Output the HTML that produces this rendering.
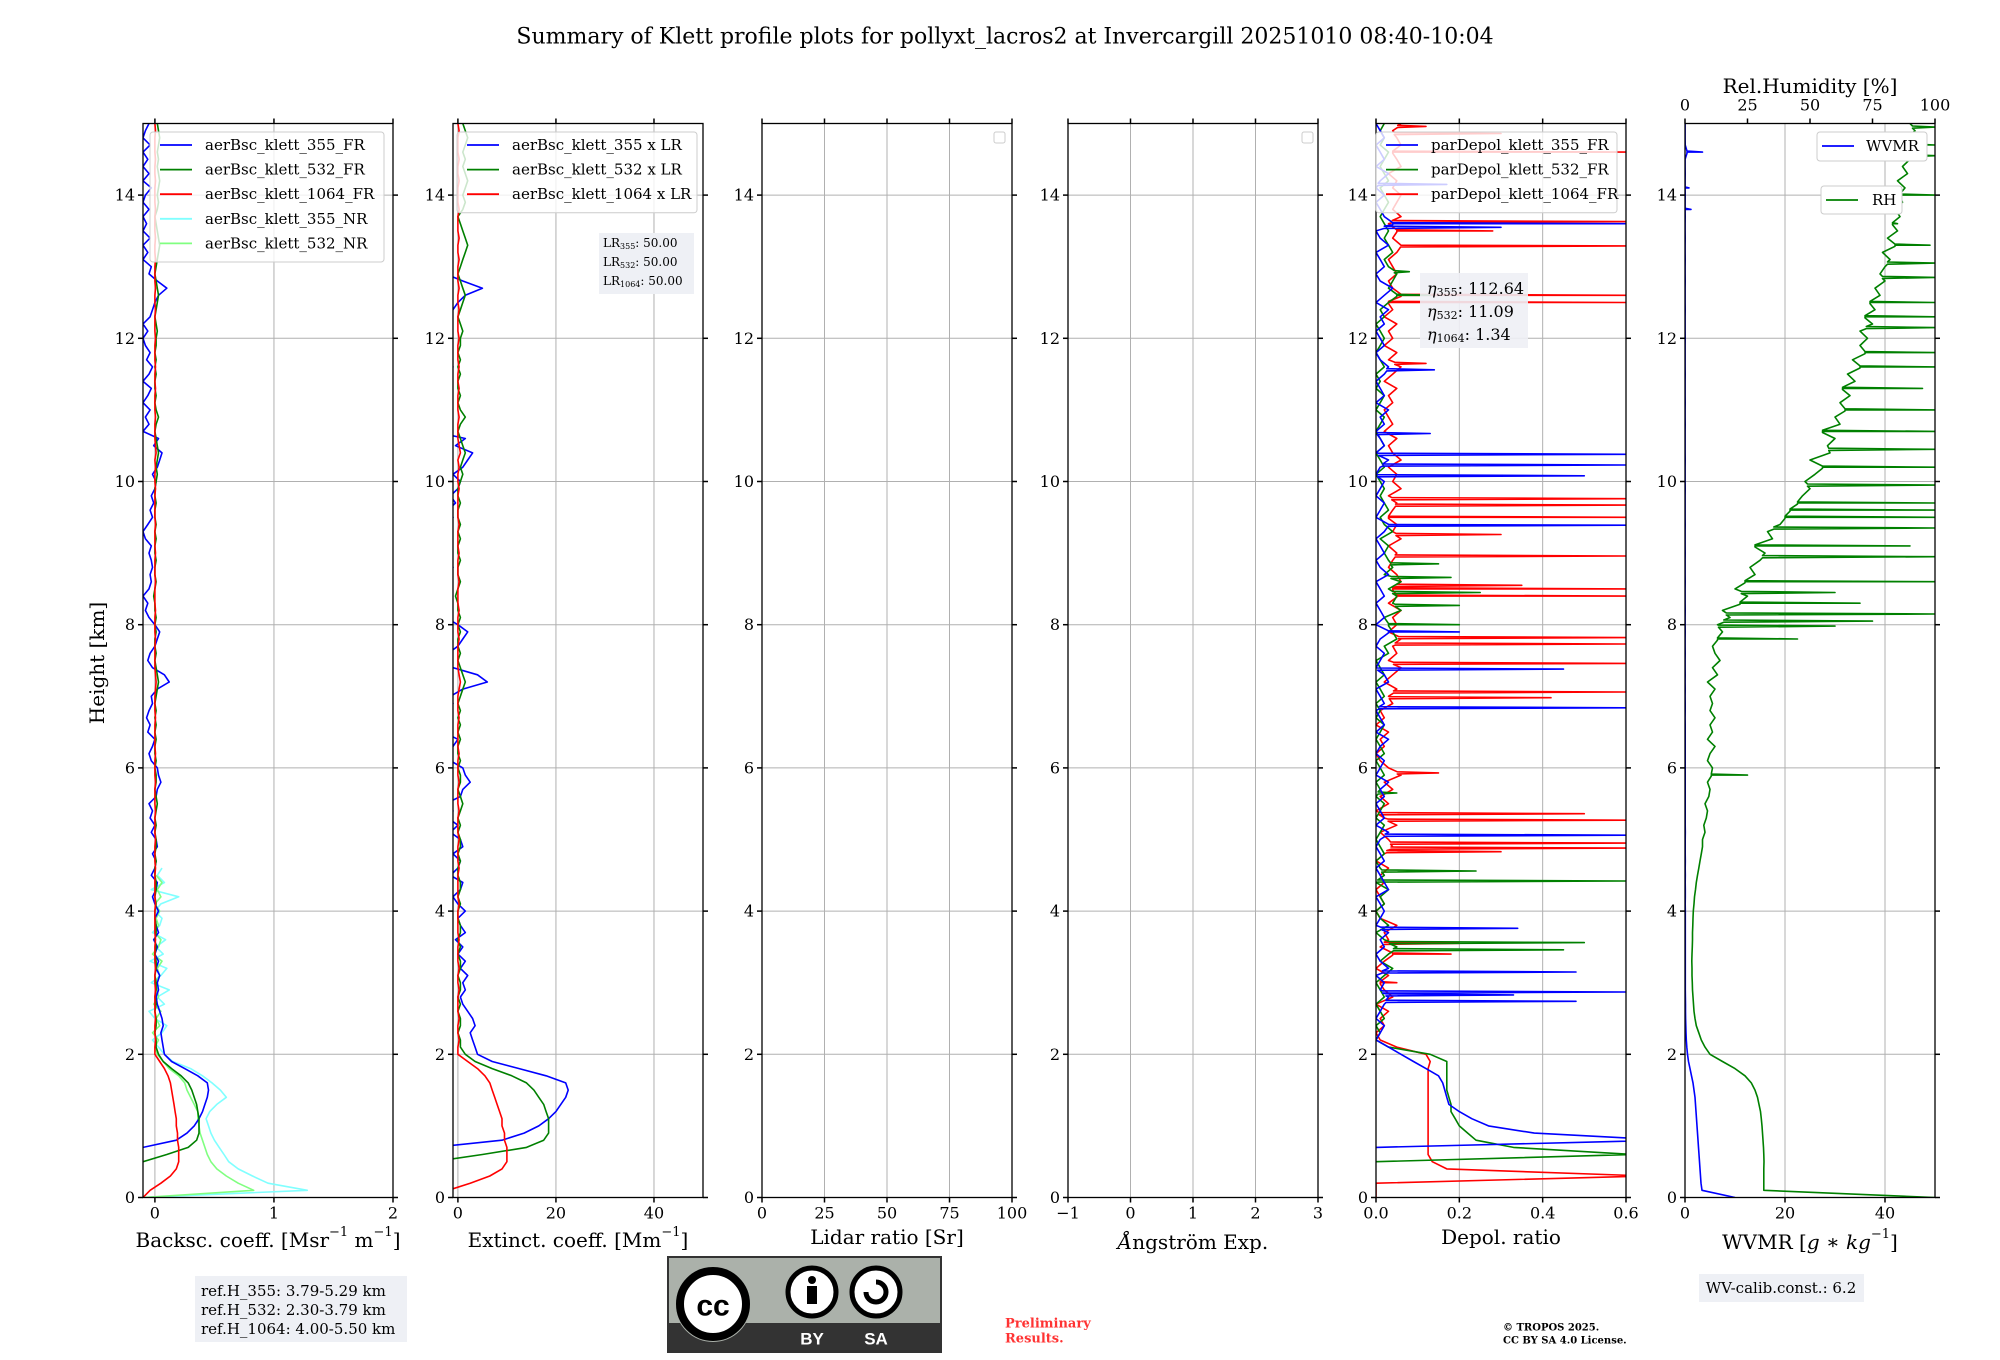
<!DOCTYPE html>
<html><head><meta charset="utf-8"><style>
html,body{margin:0;padding:0;background:#fff;}
svg{display:block;font-family:"DejaVu Serif","Liberation Serif",serif;}
</style></head><body>
<svg id="fig" width="2000" height="1360" viewBox="0 0 2000 1360" xmlns="http://www.w3.org/2000/svg">
<rect width="2000" height="1360" fill="#fff"/>
<text x="1005" y="37" font-size="22" text-anchor="middle" dominant-baseline="central">Summary of Klett profile plots for pollyxt_lacros2 at Invercargill 20251010 08:40-10:04</text>
<text x="97" y="663" font-size="20" text-anchor="middle" dominant-baseline="central" transform="rotate(-90 97 663)">Height [km]</text>
<g id="plots"></g>
<g>
<rect x="195" y="1276" width="212" height="66" fill="#eef0f5"/>
<text x="201" y="1291" font-size="15" dominant-baseline="central">ref.H_355: 3.79-5.29 km</text>
<text x="201" y="1310" font-size="15" dominant-baseline="central">ref.H_532: 2.30-3.79 km</text>
<text x="201" y="1329" font-size="15" dominant-baseline="central">ref.H_1064: 4.00-5.50 km</text>
</g>
<g>
<rect x="668" y="1257" width="273" height="95" fill="#abb1aa" stroke="#333" stroke-width="2"/>
<rect x="668" y="1323" width="273" height="29" fill="#333"/>
<circle cx="713" cy="1304" r="38" fill="#abb1aa"/>
<circle cx="713" cy="1304" r="33" fill="#fff" stroke="#000" stroke-width="8"/>
<text x="713" y="1306" font-family="Liberation Sans,sans-serif" font-weight="bold" font-size="30" text-anchor="middle" dominant-baseline="central">cc</text>
<circle cx="812" cy="1292" r="24" fill="#fff" stroke="#000" stroke-width="5"/>
<circle cx="812" cy="1280" r="4" fill="#000"/>
<rect x="807" y="1286" width="10" height="18" fill="#000"/>
<circle cx="876" cy="1292" r="24" fill="#fff" stroke="#000" stroke-width="5"/>
<path d="M866 1292 A10 10 0 1 0 876 1282" fill="none" stroke="#000" stroke-width="5"/>
<text x="812" y="1339" font-family="Liberation Sans,sans-serif" font-weight="bold" font-size="17" fill="#fff" text-anchor="middle" dominant-baseline="central">BY</text>
<text x="876" y="1339" font-family="Liberation Sans,sans-serif" font-weight="bold" font-size="17" fill="#fff" text-anchor="middle" dominant-baseline="central">SA</text>
</g>
<text x="1005" y="1324" font-size="13" font-weight="bold" fill="#ff3333" dominant-baseline="central">Preliminary</text>
<text x="1005" y="1339" font-size="13" font-weight="bold" fill="#ff3333" dominant-baseline="central">Results.</text>
<text x="1503" y="1328" font-size="10" font-weight="bold" dominant-baseline="central">© TROPOS 2025.</text>
<text x="1503" y="1341" font-size="10" font-weight="bold" dominant-baseline="central">CC BY SA 4.0 License.</text>
<g>
<rect x="1699" y="1274" width="165" height="28" fill="#eef0f5"/>
<text x="1781" y="1288" font-size="15" text-anchor="middle" dominant-baseline="central">WV-calib.const.: 6.2</text>
</g>
</svg>
<script>
// ---------------- data ----------------
const heightGrid = Array.from({length:151},(_,i)=>+(i*0.1).toFixed(1));
const yTicks = [0,2,4,6,8,10,12,14];
const lidarRatios = [50,50,50];
const bsc355FR = [
null,null,null,null,null,null,null,-0.1,0.18,0.27,
0.33,0.37,0.40,0.42,0.44,0.45,0.44,0.36,0.25,0.14,
0.08,0.07,0.06,0.05,0.07,0.06,0.04,0.02,0.01,0.03,
0.02,0.04,0.01,0.03,0.0,0.02,-0.01,0.03,0.01,0.0,
0.03,0.0,-0.02,0.01,0.02,-0.03,0.0,0.01,-0.02,0.02,
0.01,-0.03,0.0,-0.04,-0.02,-0.05,0.01,0.02,0.05,0.03,
0.02,-0.03,-0.05,-0.02,0.0,-0.06,-0.04,-0.07,-0.05,-0.02,
-0.03,0.02,0.12,0.08,-0.02,-0.06,-0.04,0.0,0.02,0.04,
0.0,-0.05,-0.08,-0.06,-0.1,-0.05,-0.03,-0.04,-0.02,-0.03,
-0.05,-0.03,-0.08,-0.1,-0.06,-0.02,-0.04,-0.01,-0.03,0.0,
0.01,-0.02,0.02,0.04,0.06,-0.01,0.03,-0.1,-0.05,-0.08,
-0.04,-0.1,-0.06,-0.03,-0.1,-0.05,-0.02,-0.07,-0.04,-0.08,
-0.1,-0.06,-0.1,-0.04,-0.02,0.0,0.03,0.1,0.02,-0.05,
-0.03,-0.1,-0.06,-0.1,-0.04,-0.1,-0.07,-0.1,-0.05,-0.1,
-0.08,-0.03,-0.1,-0.05,-0.1,-0.06,-0.1,-0.04,-0.1,-0.08,
-0.05];
const bsc532FR = [
null,null,null,null,null,-0.1,0.1,0.28,0.35,0.37,
0.37,0.37,0.36,0.35,0.33,0.31,0.28,0.22,0.14,0.07,
0.03,0.01,0.01,0.0,0.01,0.01,0.0,0.01,0.0,0.01,
0.01,0.0,0.01,0.01,0.0,0.01,0.0,0.01,0.01,0.0,
0.0,0.01,0.0,0.01,0.01,0.0,0.0,0.01,0.0,0.01,
0.01,0.0,0.01,0.0,0.01,0.02,0.01,0.0,0.01,0.01,
0.0,0.01,0.0,0.0,0.01,0.0,0.01,0.0,0.01,0.0,
0.01,0.02,0.03,0.02,0.01,0.0,0.01,0.0,0.0,0.01,
0.0,0.01,0.0,0.0,-0.01,0.0,0.01,0.0,0.0,0.01,
0.0,0.0,0.01,0.0,0.01,0.0,0.0,0.01,0.0,0.0,
0.01,0.02,0.01,0.02,0.03,0.02,0.01,0.0,0.01,0.03,
0.01,0.0,0.01,0.0,0.0,0.01,0.0,0.01,0.0,0.01,
0.01,0.02,0.01,0.0,0.01,0.02,0.03,0.02,0.01,0.0,
0.01,0.02,0.03,0.04,0.03,0.02,0.01,0.0,0.02,0.03,
0.02,0.03,0.04,0.03,0.02,0.03,0.02,0.03,0.04,0.03,
0.02];
const bsc1064FR = [
-0.1,-0.04,0.05,0.13,0.18,0.2,0.2,0.2,0.19,0.19,
0.18,0.18,0.17,0.16,0.15,0.14,0.13,0.11,0.08,0.04,
0.0,0.0,0.005,0.0,0.0,0.005,0.0,0.0,0.0,0.005,
0.0,0.0,0.005,0.0,0.0,0.0,0.005,0.0,0.0,0.0,
0.0,0.005,0.0,0.0,0.0,0.0,0.005,0.0,0.0,0.0,
0.005,0.0,0.0,0.0,0.005,0.0,0.0,0.0,0.005,0.0,
0.0,0.0,0.005,0.0,0.0,0.0,0.0,0.005,0.0,0.0,
0.0,0.005,0.01,0.005,0.0,0.0,0.0,0.0,0.005,0.0,
0.0,0.0,0.005,0.0,0.0,0.0,0.005,0.0,0.0,0.0,
0.005,0.0,0.0,0.0,0.005,0.0,0.0,0.0,0.0,0.005,
0.0,0.0,0.005,0.0,0.01,0.005,0.0,0.0,0.0,0.005,
0.0,0.0,0.0,0.005,0.0,0.0,0.005,0.0,0.0,0.0,
0.005,0.0,0.0,0.0,0.005,0.0,0.0,0.005,0.0,0.0,
0.0,0.005,0.0,0.0,0.005,0.0,0.0,0.0,0.005,0.0,
0.0,0.0,0.005,0.0,0.0,0.005,0.0,0.0,0.0,0.005,
0.0];
const bsc355NR = [
-0.1,1.28,0.95,0.82,0.7,0.62,0.58,0.54,0.5,0.47,
0.45,0.43,0.46,0.52,0.6,0.55,0.48,0.4,0.3,0.15,
0.08,0.03,-0.02,0.06,0.1,0.0,-0.05,0.08,0.02,0.12,
-0.03,0.05,0.1,-0.04,0.07,0.01,0.09,-0.02,0.04,0.06,
0.0,0.05,0.2,-0.03,0.08,0.02,0.06];
const bsc532NR = [
-0.1,0.83,0.7,0.6,0.52,0.47,0.44,0.42,0.4,0.38,
0.37,0.36,0.36,0.33,0.3,0.27,0.25,0.2,0.12,0.07,
0.02,0.0,0.03,-0.02,0.04,0.01,0.05,-0.01,0.03,0.02,
0.0,0.04,0.02,0.06,-0.02,0.03,0.05,0.0,0.03,0.01,
0.04,0.0,0.05,0.02,0.06,0.01];
const depol355 = [
null,null,null,null,null,null,null,0.0,0.7,0.38,
0.27,0.23,0.2,0.175,0.17,0.165,0.16,0.15,0.12,0.09,
0.06,0.03,0.0,0.01,0.02,0.0,0.01,0.02,0.03,0.01,
0.02,0.0,0.03,0.01,0.0,0.02,0.01,0.03,0.0,0.01,
0.02,0.01,0.0,0.03,0.02,0.01,0.0,0.02,0.01,0.0,
0.01,0.03,0.0,0.02,0.01,0.0,0.02,0.01,0.03,0.0,
0.01,0.02,0.0,0.01,0.03,0.0,0.02,0.01,0.0,0.02,
0.01,0.0,0.03,0.02,0.0,0.01,0.02,0.0,0.01,0.03,
0.0,0.02,0.01,0.0,0.02,0.01,0.0,0.03,0.01,0.0,
0.02,0.01,0.0,0.02,0.03,0.0,0.01,0.02,0.0,0.01,
0.02,0.0,0.01,0.03,0.0,0.02,0.01,0.0,0.02,0.01,
0.03,0.0,0.02,0.01,0.0,0.02,0.03,0.01,0.0,0.02,
0.01,0.0,0.02,0.01,0.03,0.0,0.02,0.04,0.01,0.0,
0.02,0.01,0.0,0.03,0.01,0.0,0.04,0.02,0.01,0.0,
0.02,0.0,0.01,0.03,0.0,0.02,0.01,0.0,0.02,0.01,
0.0];
const depol532 = [
null,null,null,null,null,0.0,0.62,0.33,0.24,0.22,
0.2,0.19,0.18,0.18,0.175,0.17,0.17,0.17,0.17,0.17,
0.13,0.03,0.0,0.01,0.0,0.02,0.01,0.0,0.02,0.01,
0.0,0.02,0.04,0.01,0.03,0.05,0.02,0.0,0.03,0.01,
0.0,0.02,0.01,0.03,0.0,0.02,0.01,0.0,0.02,0.01,
0.0,0.01,0.02,0.0,0.01,0.02,0.0,0.01,0.0,0.02,
0.01,0.0,0.02,0.01,0.0,0.01,0.02,0.0,0.01,0.0,
0.02,0.01,0.0,0.02,0.01,0.0,0.03,0.02,0.05,0.04,
0.03,0.02,0.06,0.04,0.05,0.03,0.06,0.02,0.04,0.03,
0.02,0.03,0.01,0.04,0.02,0.01,0.03,0.02,0.01,0.02,
0.01,0.0,0.02,0.01,0.0,0.02,0.01,0.0,0.01,0.02,
0.0,0.01,0.02,0.0,0.01,0.0,0.02,0.01,0.0,0.01,
0.02,0.01,0.0,0.02,0.01,0.03,0.05,0.03,0.04,0.05,
0.03,0.02,0.04,0.03,0.02,0.03,0.02,0.01,0.02,0.03,
0.02,0.01,0.03,0.02,0.01,0.02,0.03,0.01,0.02,0.01,
0.02];
const depol1064 = [
0.0,0.0,0.0,0.65,0.17,0.135,0.125,0.125,0.125,0.125,
0.125,0.125,0.125,0.125,0.125,0.125,0.125,0.125,0.125,0.13,
0.12,0.05,0.01,0.0,0.02,0.01,0.03,0.0,0.04,0.02,
0.01,0.03,0.0,0.02,0.04,0.01,0.03,0.02,0.05,0.01,
0.0,0.02,0.01,0.0,0.02,0.01,0.03,0.0,0.02,0.04,
0.03,0.01,0.05,0.02,0.0,0.03,0.01,0.04,0.02,0.06,
0.03,0.01,0.0,0.02,0.01,0.03,0.0,0.02,0.01,0.04,
0.03,0.05,0.02,0.04,0.06,0.03,0.05,0.04,0.06,0.03,
0.05,0.04,0.06,0.03,0.05,0.04,0.06,0.05,0.03,0.04,
0.05,0.03,0.06,0.04,0.05,0.03,0.04,0.05,0.03,0.06,
0.04,0.05,0.03,0.06,0.04,0.03,0.05,0.02,0.04,0.03,
0.02,0.04,0.03,0.05,0.02,0.04,0.06,0.03,0.05,0.02,
0.04,0.03,0.05,0.02,0.04,0.03,0.06,0.04,0.03,0.05,
0.04,0.03,0.05,0.06,0.04,0.05,0.03,0.06,0.04,0.05,
0.06,0.04,0.05,0.03,0.06,0.05,0.04,0.06,0.05,0.04,
0.06];
const spikeH355 = [2.74,2.83,2.87,3.15,3.76,5.06,6.84,7.38,7.9,9.39,10.08,10.23,10.38,10.67,11.56,13.55,13.6,14.15];
const spikeV355 = [0.48,0.33,0.6,0.48,0.34,0.6,0.6,0.45,0.2,0.6,0.5,0.6,0.6,0.13,0.14,0.3,0.6,0.17];
const spikeH532 = [3.46,3.56,4.42,4.56,5.65,8.0,8.27,8.45,8.66,8.85,12.6,12.93];
const spikeV532 = [0.45,0.5,0.6,0.24,0.05,0.2,0.2,0.25,0.18,0.15,0.13,0.08];
const spikeH1064 = [3.0,3.4,3.55,4.83,4.88,4.95,5.27,5.36,5.93,6.98,7.06,7.46,7.73,7.82,8.4,8.5,8.55,8.96,9.26,9.5,9.67,9.76,11.65,12.5,12.6,13.29,13.5,13.63,14.6,14.86,14.96];
const spikeV1064 = [0.05,0.18,0.2,0.3,0.6,0.6,0.6,0.5,0.15,0.42,0.6,0.6,0.6,0.6,0.6,0.6,0.35,0.6,0.3,0.6,0.6,0.6,0.12,0.6,0.6,0.6,0.28,0.6,0.6,0.3,0.12];
const relHumidity = [
100,31.5,31.5,31.5,31.5,31.6,31.5,31.4,31.2,31,
30.8,30.5,30.2,29.6,29,28,26.5,24,20,15,
10,8,6.5,5.5,4.5,4,3.6,3.4,3.2,3,
2.9,2.8,2.8,2.7,2.8,2.9,3.0,3.0,3.1,3.2,
3.3,3.6,3.8,4.2,4.5,5,5.5,6,6.5,7,
7,8,7.5,8.5,9,8,9.5,10,9,10.5,
11,9,10,12,9,11,10,12,10,11,
10,12,9,13,11,14,12,11,13,15,
13,18,15,22,25,20,24,28,26,30,
32,28,35,33,38,40,42,45,47,50,
48,52,55,50,58,57,60,55,62,60,
64,62,66,63,68,65,70,67,72,70,
73,70,75,72,76,74,78,76,80,78,
80,82,79,84,81,85,83,86,84,87,
86,88,85,89,87,90,88,91,89,92,
90];
const rhSpikeH = [5.9,7.8,7.98,8.05,8.15,8.3,8.45,8.6,8.95,9.1,9.35,9.5,9.6,9.7,9.95,10.2,10.45,10.7,11.0,11.3,11.6,11.8,12.15,12.3,12.5,12.85,13.05,13.3,13.6,14.0,14.55,14.7,14.95];
const rhSpikeV = [25,45,60,75,100,70,60,100,100,90,100,100,100,100,100,100,100,100,100,95,100,100,100,100,100,100,100,98,85,100,100,100,100];
const wvmr = [
10,3.4,3.2,3.1,3.0,2.9,2.8,2.7,2.6,2.5,
2.4,2.3,2.2,2.1,2.0,1.8,1.6,1.3,1.0,0.7,
0.5,0.35,0.25,0.2,0.15,0.12,0.1,0.09,0.08,0.07,
0.06,0.06,0.05,0.06,0.05,0.05,0.06,0.05,0.05,0.05,
0.05,0.04,0.05,0.05,0.04,0.05,0.04,0.05,0.04,0.04,
0.04,0.05,0.04,0.04,0.03,0.04,0.04,0.03,0.04,0.03,
0.03,0.04,0.03,0.03,0.04,0.03,0.03,0.02,0.03,0.03,
0.02,0.03,0.02,0.03,0.02,0.02,0.03,0.02,0.02,0.03,
0.02,0.02,0.03,0.02,0.02,0.02,0.03,0.02,0.02,0.02,
0.03,0.02,0.02,0.02,0.03,0.02,0.02,0.02,0.02,0.03,
0.02,0.02,0.02,0.03,0.02,0.02,0.02,0.02,0.03,0.02,
0.02,0.03,0.02,0.02,0.02,0.03,0.02,0.02,0.02,0.02,
0.03,0.02,0.02,0.02,0.03,0.02,0.02,0.02,0.03,0.02,
0.02,0.03,0.02,0.02,0.03,0.02,0.02,0.03,0.02,0.02,
0.03,0.02,0.02,0.03,0.02,0.02,0.4,0.03,0.02,0.02,
0.02];
const wvSpikeH = [14.6,13.8,14.1];
const wvSpikeV = [3.5,1.2,0.8];

// ---------------- drawing ----------------
const NS='http://www.w3.org/2000/svg';
const root=document.getElementById('plots');
const TOP=123.5, BOT=1197.5, W=250;
const lefts=[143,453,762,1068,1376,1685];
function el(tag,attrs,parent){const e=document.createElementNS(NS,tag);for(const k in attrs)e.setAttribute(k,attrs[k]);(parent||root).appendChild(e);return e;}
function yOf(h){return BOT-(h/15)*(BOT-TOP);}
function makePanel(i,xmin,xmax,ticks,labels,name){
  const L=lefts[i], R=L+W;
  const xOf=v=>L+(v-xmin)/(xmax-xmin)*W;
  const g=el('g',{});
  
  
  const cp=el('clipPath',{id:'clip'+i},g);
  el('rect',{x:L,y:TOP,width:W,height:BOT-TOP},cp);
  ticks.forEach(t=>{const x=xOf(t);el('line',{x1:x,x2:x,y1:TOP,y2:BOT,stroke:'#b0b0b0','stroke-width':1},g);});
  yTicks.forEach(t=>{const y=yOf(t);el('line',{x1:L,x2:R,y1:y,y2:y,stroke:'#b0b0b0','stroke-width':1},g);});
  const data=el('g',{'clip-path':'url(#clip'+i+')'},g);
  const sp=el('rect',{x:L,y:TOP,width:W,height:BOT-TOP,fill:'none',stroke:'#000','stroke-width':1.3},g);
  
  
  ticks.forEach((t,k)=>{const x=xOf(t);
    el('line',{x1:x,x2:x,y1:BOT,y2:BOT+5,stroke:'#000','stroke-width':1.5},g);
    if(i!==5) el('line',{x1:x,x2:x,y1:TOP,y2:TOP-5,stroke:'#000','stroke-width':1.5},g);
    const tx=el('text',{x:x,y:1213,'font-size':16,'text-anchor':'middle','dominant-baseline':'central'},g);
    
    
    tx.textContent=labels[k];});
  yTicks.forEach(t=>{const y=yOf(t);
    el('line',{x1:L,x2:L-5,y1:y,y2:y,stroke:'#000','stroke-width':1.5},g);
    el('line',{x1:R,x2:R+5,y1:y,y2:y,stroke:'#000','stroke-width':1.5},g);
    const tx=el('text',{x:L-8,y:y,'font-size':16,'text-anchor':'end','dominant-baseline':'central'},g);
    
    
    tx.textContent=t;});
  return {L,R,xOf,g,data};
}
function path(p,hs,vs,color,opts){
  opts=opts||{};let d='',pen=false;
  for(let k=0;k<vs.length;k++){const v=vs[k];
    if(v===null||v===undefined){pen=false;continue;}
    const x=p.xOf(v).toFixed(1),y=yOf(hs[k]).toFixed(1);
    d+=(pen?'L':'M')+x+' '+y+' ';pen=true;}
  return el('path',{d:d,fill:'none',stroke:color,'stroke-width':opts.w||1.6,'stroke-linejoin':'round','stroke-opacity':opts.op||1},p.data);
}
function withSpikes(base,sh,sv){
  const pts=heightGrid.map((h,k)=>[h,base[k]]);
  sh.forEach((h,k)=>{const k0=Math.floor(h*10);const b0=base[k0],b1=base[Math.min(k0+1,150)];
    const b=(b0==null||b1==null)?0:b0+(b1-b0)*(h*10-k0);
    pts.push([h-0.015,b],[h,sv[k]],[h+0.015,b]);});
  pts.sort((a,b)=>a[0]-b[0]);
  return [pts.map(p=>p[0]),pts.map(p=>p[1])];
}
function axisLabel(p,y,content,name){
  const t=el('text',{x:(p.L+p.R)/2,y:y,'font-size':20,'text-anchor':'middle','dominant-baseline':'central'},p.g);
  
  
  t.innerHTML=content;return t;
}
function legend(p,x,y,w,rows,name){
  const g=el('g',{},p.g);
  
  
  el('rect',{x:x,y:y,width:w,height:rows.length*24.6+7,rx:3,fill:'#fff','fill-opacity':0.8,stroke:'#ccc'},g);
  rows.forEach((r,k)=>{const yy=y+13+k*24.6;
    el('line',{x1:x+10,x2:x+42,y1:yy,y2:yy,stroke:r[1],'stroke-width':1.8},g);
    const t=el('text',{x:x+55,y:yy,'font-size':15,'dominant-baseline':'central'},g);
    
    
    t.textContent=r[0];});
}
const sup='<tspan font-size="13" dy="-8">';
const p1=makePanel(0,-0.1,2,[0,1,2],['0','1','2'],'backscatter');
path(p1,heightGrid,bsc355NR,'#80ffff',{w:1.6});
path(p1,heightGrid,bsc532NR,'#80ff80',{w:1.6});
path(p1,heightGrid,bsc355FR,'#0000ff');
path(p1,heightGrid,bsc532FR,'#008000');
path(p1,heightGrid,bsc1064FR,'#ff0000');
axisLabel(p1,1240,'Backsc. coeff. [Msr'+sup+'−1</tspan><tspan dy="8"> m</tspan>'+sup+'−1</tspan><tspan dy="8">]</tspan>','x-axis-title-backscatter');
legend(p1,150,132,234,[['aerBsc_klett_355_FR','#0000ff'],['aerBsc_klett_532_FR','#008000'],['aerBsc_klett_1064_FR','#ff0000'],['aerBsc_klett_355_NR','#80ffff'],['aerBsc_klett_532_NR','#80ff80']],'backscatter-legend');
const p2=makePanel(1,-1,50,[0,20,40],['0','20','40'],'extinction');
path(p2,heightGrid,bsc355FR.map(v=>v==null?null:v*lidarRatios[0]),'#0000ff');
path(p2,heightGrid,bsc532FR.map(v=>v==null?null:v*lidarRatios[1]),'#008000');
path(p2,heightGrid,bsc1064FR.map(v=>v==null?null:v*lidarRatios[2]),'#ff0000');
axisLabel(p2,1240,'Extinct. coeff. [Mm'+sup+'−1</tspan><tspan dy="8">]</tspan>','x-axis-title-extinction');
legend(p2,457,132,240,[['aerBsc_klett_355 x LR','#0000ff'],['aerBsc_klett_532 x LR','#008000'],['aerBsc_klett_1064 x LR','#ff0000']],'extinction-legend');
(function(){const g=el('g',{},p2.g);
 
 
 el('rect',{x:599,y:233,width:95,height:61,fill:'#eef0f5'},g);
 ['355','532','1064'].forEach((w,k)=>{const t=el('text',{x:603,y:243+k*19,'font-size':12,'dominant-baseline':'central'},g);
  t.innerHTML='LR<tspan font-size="8" dy="3">'+w+'</tspan><tspan dy="-3">: '+lidarRatios[k].toFixed(2)+'</tspan>';});})();
const p3=makePanel(2,0,100,[0,25,50,75,100],['0','25','50','75','100'],'lidar-ratio');
axisLabel(p3,1237,'Lidar ratio [Sr]','x-axis-title-lidar-ratio');
el('rect',{x:994,y:132,width:11,height:11,rx:2,fill:'#fff',stroke:'#ccc'},p3.g);
const p4=makePanel(3,-1,3,[-1,0,1,2,3],['−1','0','1','2','3'],'angstrom');
axisLabel(p4,1242,'<tspan font-style="italic">Å</tspan>ngström Exp.','x-axis-title-angstrom');
el('rect',{x:1302,y:132,width:11,height:11,rx:2,fill:'#fff',stroke:'#ccc'},p4.g);
const p5=makePanel(4,0,0.6,[0,0.2,0.4,0.6],['0.0','0.2','0.4','0.6'],'depol');
let s=withSpikes(depol1064,spikeH1064,spikeV1064);path(p5,s[0],s[1],'#ff0000');
s=withSpikes(depol532,spikeH532,spikeV532);path(p5,s[0],s[1],'#008000');
s=withSpikes(depol355,spikeH355,spikeV355);path(p5,s[0],s[1],'#0000ff');
axisLabel(p5,1237,'Depol. ratio','x-axis-title-depol');
legend(p5,1376,132,241,[['parDepol_klett_355_FR','#0000ff'],['parDepol_klett_532_FR','#008000'],['parDepol_klett_1064_FR','#ff0000']],'depol-legend');
(function(){const g=el('g',{},p5.g);
 
 
 el('rect',{x:1420,y:273,width:108,height:75,fill:'#eef0f5','fill-opacity':0.9},g);
 [['355','112.64'],['532','11.09'],['1064','1.34']].forEach((r,k)=>{const t=el('text',{x:1427,y:288+k*23,'font-size':16,'dominant-baseline':'central'},g);
  t.innerHTML='<tspan font-style="italic">η</tspan><tspan font-size="11" dy="4">'+r[0]+'</tspan><tspan dy="-4">: '+r[1]+'</tspan>';});})();
const p6=makePanel(5,0,50,[0,20,40],['0','20','40'],'wvmr');
const rhP={xOf:v=>p6.L+v/100*W,data:p6.data};
s=withSpikes(relHumidity,rhSpikeH,rhSpikeV);path(rhP,s[0],s[1],'#008000');
s=withSpikes(wvmr,wvSpikeH,wvSpikeV);path(p6,s[0],s[1],'#0000ff');
[0,25,50,75,100].forEach(t=>{const x=rhP.xOf(t);
  el('line',{x1:x,x2:x,y1:TOP,y2:TOP-5,stroke:'#000','stroke-width':1.5},p6.g);
  const tx=el('text',{x:x,y:105,'font-size':16,'text-anchor':'middle','dominant-baseline':'central'},p6.g);
  
  
  tx.textContent=t;});
axisLabel(p6,86,'Rel.Humidity [%]','top-axis-title-rh');
axisLabel(p6,1242,'WVMR [<tspan font-style="italic">g</tspan> ∗ <tspan font-style="italic">kg</tspan>'+sup+'−1</tspan><tspan dy="8">]</tspan>','x-axis-title-wvmr');
(function(){const g=el('g',{},p6.g);
 
 
 el('rect',{x:1817,y:132,width:110,height:29,rx:3,fill:'#fff',stroke:'#ccc'},g);
 el('line',{x1:1822,x2:1854,y1:146,y2:146,stroke:'#0000ff','stroke-width':1.8},g);
 const t=el('text',{x:1866,y:146,'font-size':15,'dominant-baseline':'central'},g);t.textContent='WVMR';
 const g2=el('g',{},p6.g);
 
 
 el('rect',{x:1821,y:186,width:81,height:28,rx:3,fill:'#fff',stroke:'#ccc'},g2);
 el('line',{x1:1826,x2:1858,y1:200,y2:200,stroke:'#008000','stroke-width':1.8},g2);
 const t2=el('text',{x:1872,y:200,'font-size':15,'dominant-baseline':'central'},g2);t2.textContent='RH';})();
</script>
</body></html>
